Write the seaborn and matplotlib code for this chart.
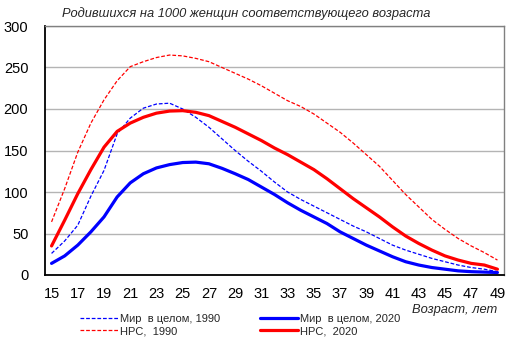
import pandas as pd
import matplotlib
matplotlib.use('Agg')
import matplotlib.pyplot as plt
import seaborn as sns

# age groups (single years)
ages = list(range(15, 50))

# births per 1000 women of given age
world_1990 = [26, 41, 60, 95, 126, 170, 189, 201, 206, 207, 200, 190, 178, 164, 150, 137, 125,
              112, 100, 91, 83, 75, 67, 59, 52, 44, 36, 30, 25, 20, 16, 12, 9, 7, 4]
world_2020 = [14, 23, 36, 52, 70, 94, 111, 122, 129, 133, 135.5, 136, 134, 128.5, 122, 115, 106,
              97, 87, 78, 70, 62, 52, 44, 36, 29, 22, 16, 12, 9, 7, 5, 4, 3.5, 3]
nrs_1990 = [64, 104, 148, 183, 211, 234, 251, 257, 262, 265, 264, 261, 257, 250, 243, 236, 228,
            219, 210, 203, 194, 183, 172, 159, 145, 131, 114, 97, 82, 67, 55, 44, 35, 27, 18]
nrs_2020 = [35, 66, 98, 127, 154, 173, 183, 190, 195, 197.5, 198, 196, 192, 185, 178, 170, 162,
            153, 145, 136, 127, 116, 104, 92, 81, 70, 58, 47, 38, 30, 23, 18, 14, 12, 7]

series_names = ['Мир  в целом, 1990', 'НРС,  1990', 'Мир  в целом, 2020', 'НРС,  2020']
series_values = [world_1990, nrs_1990, world_2020, nrs_2020]
colors = ['#0000ff', '#ff0000', '#0000ff', '#ff0000']
widths = [0.9, 0.9, 2.3, 2.3]
dashed = [True, True, False, False]

sns.set_style('white')
plt.rcParams['font.family'] = ['Liberation Sans', 'DejaVu Sans']

fig = plt.figure(figsize=(5.19, 3.52), dpi=100)
ax = fig.add_axes([45 / 519, 1 - 275 / 352, 459 / 519, 249 / 352])

for name, vals, c, lw, d in zip(series_names, series_values, colors, widths, dashed):
    df = pd.DataFrame({'age': ages, 'rate': vals})
    sns.lineplot(data=df, x='age', y='rate', ax=ax, color=c, linewidth=lw, label=name)
    if d:
        ax.lines[-1].set_dashes((3, 1.5))

ax.set_xlim(14.5, 49.5)
ax.set_ylim(0, 300)
ax.set_xticks(range(15, 50, 2))
ax.set_yticks(range(0, 301, 50))
ax.tick_params(axis='both', length=0, labelsize=10.5, colors='black')
ax.tick_params(axis='x', pad=9)
ax.tick_params(axis='y', pad=12)
ax.yaxis.grid(True, color='#b4b4b4', linewidth=1)
ax.set_axisbelow(True)
ax.set_xlabel('')
ax.set_ylabel('')
for s in ['left', 'bottom']:
    ax.spines[s].set_color('black')
    ax.spines[s].set_linewidth(1.3)
for s in ['top', 'right']:
    ax.spines[s].set_color('#808080')
    ax.spines[s].set_linewidth(1)

fig.text(62 / 519, 1 - 14 / 352, 'Родившихся на 1000 женщин соответствующего возраста',
         fontsize=9.3, style='italic', va='center', ha='left')
fig.text(497 / 519, 1 - 310 / 352, 'Возраст, лет', fontsize=9.3, style='italic',
         va='center', ha='right')

handles, labels = ax.get_legend_handles_labels()
ax.legend_.remove()
fig.legend(handles, labels, ncol=2, loc='upper left', bbox_to_anchor=(80 / 519, 1 - 314 / 352),
           frameon=False, fontsize=8, handlelength=3.4, handletextpad=0.2,
           columnspacing=3.6, labelspacing=0.2, borderpad=0, borderaxespad=0)

fig.savefig('out.png', dpi=100)
